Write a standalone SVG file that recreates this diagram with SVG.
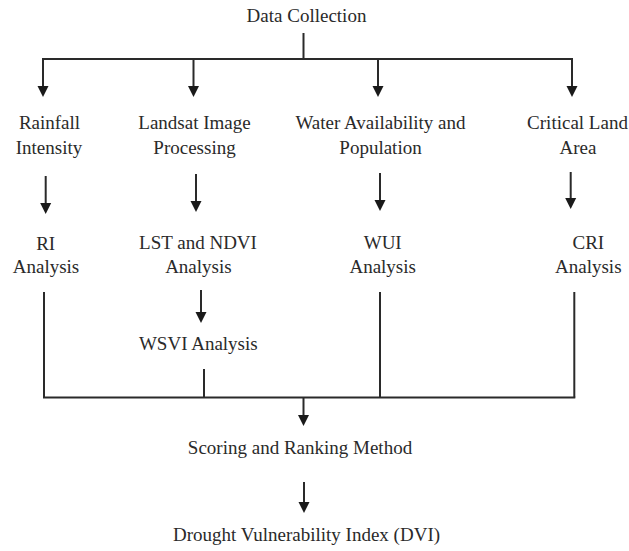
<svg xmlns="http://www.w3.org/2000/svg" width="629" height="551" viewBox="0 0 629 551">
  <style>
    text { font-family: "Liberation Serif", "Times New Roman", serif; font-size: 19px; fill: #2a2a2a; text-anchor: middle; }
    .ln { stroke: #2a2a2a; stroke-width: 2; fill: none; }
    .ar { stroke: #2a2a2a; stroke-width: 2; fill: none; marker-end: url(#ah); }
  </style>
  <defs>
    <marker id="ah" markerUnits="userSpaceOnUse" markerWidth="12" markerHeight="12" refX="0" refY="5.5" orient="auto" overflow="visible">
      <path d="M0,0 L11,5.5 L0,11 Z" fill="#1a1a1a"/>
    </marker>
  </defs>
  <rect width="629" height="551" fill="#ffffff"/>

  <g id="connectors">
    <line class="ln" x1="303.5" y1="33" x2="303.5" y2="59"/>
    <line class="ln" x1="42" y1="59" x2="573" y2="59"/>
    <line class="ar" x1="43" y1="58" x2="43" y2="86"/>
    <line class="ar" x1="193.5" y1="59" x2="193.5" y2="86"/>
    <line class="ar" x1="378" y1="59" x2="378" y2="86"/>
    <line class="ar" x1="572" y1="58" x2="572" y2="86"/>

    <line class="ar" x1="45.7" y1="176" x2="45.7" y2="203"/>
    <line class="ar" x1="196" y1="174" x2="196" y2="201"/>
    <line class="ar" x1="380" y1="173" x2="380" y2="200"/>
    <line class="ar" x1="570.7" y1="172" x2="570.7" y2="198"/>

    <line class="ar" x1="201" y1="290" x2="201" y2="312"/>

    <line class="ln" x1="44" y1="292" x2="44" y2="397.5"/>
    <line class="ln" x1="204" y1="369" x2="204" y2="397.5"/>
    <line class="ln" x1="380" y1="292" x2="380" y2="397.5"/>
    <line class="ln" x1="574.3" y1="292" x2="574.3" y2="397.5"/>
    <line class="ln" x1="43" y1="397.5" x2="575.3" y2="397.5"/>

    <line class="ar" x1="303.5" y1="398" x2="303.5" y2="415"/>
    <line class="ar" x1="304" y1="482" x2="304" y2="502"/>
  </g>

  <g id="data-collection"><text x="306.5" y="21.5">Data Collection</text></g>

  <g id="rainfall-intensity">
    <text x="49.5" y="129">Rainfall</text>
    <text x="49" y="154">Intensity</text>
  </g>
  <g id="landsat-image-processing">
    <text x="194.5" y="129">Landsat Image</text>
    <text x="194.5" y="154">Processing</text>
  </g>
  <g id="water-availability-population">
    <text x="380.5" y="129">Water Availability and</text>
    <text x="380.5" y="154">Population</text>
  </g>
  <g id="critical-land-area">
    <text x="577.5" y="129">Critical Land</text>
    <text x="578" y="154">Area</text>
  </g>

  <g id="ri-analysis">
    <text x="45.7" y="250">RI</text>
    <text x="46" y="273">Analysis</text>
  </g>
  <g id="lst-ndvi-analysis">
    <text x="198" y="249">LST and NDVI</text>
    <text x="198.4" y="273">Analysis</text>
  </g>
  <g id="wui-analysis">
    <text x="382.7" y="249">WUI</text>
    <text x="382.7" y="273">Analysis</text>
  </g>
  <g id="cri-analysis">
    <text x="588.3" y="249">CRI</text>
    <text x="588.3" y="273">Analysis</text>
  </g>

  <g id="wsvi-analysis"><text x="198.3" y="350">WSVI Analysis</text></g>
  <g id="scoring-ranking"><text x="300" y="454">Scoring and Ranking Method</text></g>
  <g id="dvi"><text x="306.5" y="541">Drought Vulnerability Index (DVI)</text></g>
</svg>
